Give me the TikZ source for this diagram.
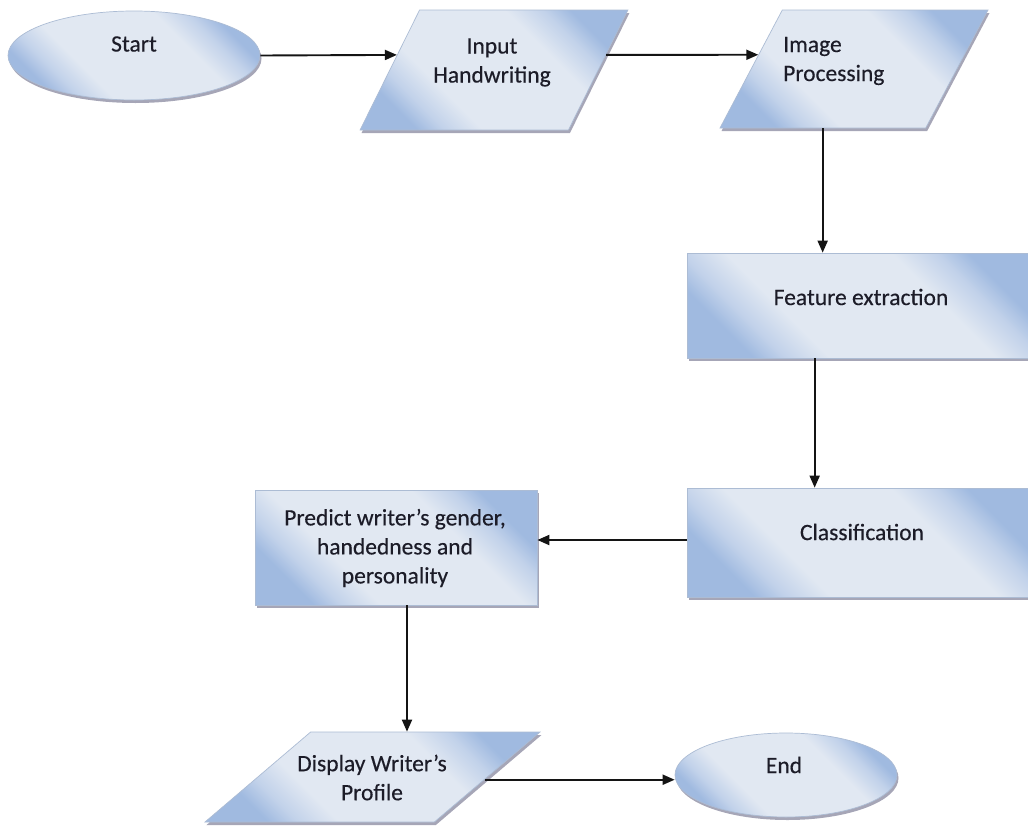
\documentclass[tikz,border=0pt]{standalone}
\usepackage{fontspec}
\setmainfont{Carlito}[FakeBold=0.35]
\usetikzlibrary{shapes.geometric,shadows,arrows.meta,calc}

\definecolor{edgeblue}{RGB}{172,188,212}
\definecolor{deepblue}{RGB}{160,186,224}
\definecolor{midblue}{RGB}{194,210,234}
\definecolor{paleblue}{RGB}{225,232,242}
\definecolor{inktext}{RGB}{28,28,40}
\definecolor{linkgray}{RGB}{20,20,20}

% diagonal sheen: darker blue at two opposite corners, pale band across the middle
\pgfdeclareverticalshading{flowshade}{100bp}{%
  color(0bp)=(deepblue); color(25bp)=(deepblue); color(30bp)=(midblue);
  color(37bp)=(paleblue); color(63bp)=(paleblue); color(70bp)=(midblue);
  color(75bp)=(deepblue); color(100bp)=(deepblue)}

\tikzset{
  flowfill/.style={shading=flowshade, shading angle=-45},
  shapebase/.style={draw=edgeblue, line width=0.7pt, flowfill, inner sep=0pt,
    drop shadow={shadow xshift=1.5pt, shadow yshift=-3pt, fill=black!80!blue, opacity=0.35}},
  oval/.style={shapebase, ellipse},
  procbox/.style={shapebase, rectangle},
  iobox/.style={shapebase, trapezium, trapezium stretches=true, inner sep=2pt},
  txt/.style={font=\fontsize{23.5}{29}\selectfont, text=inktext, align=center, inner sep=0pt},
  link/.style={draw=linkgray, line width=1.9pt, -{Triangle[length=12pt,width=10pt]}}
}

\begin{document}
\begin{tikzpicture}[x=1pt,y=-1pt]
\useasboundingbox (0,0) rectangle (1028,825);
\fill[white] (0,0) rectangle (1028,825);
\clip (0,0) rectangle (1028,825);

% shapes
\node[oval, minimum width=252pt, minimum height=89pt] (start) at (134,55.5) {};
\node[iobox, trapezium left angle=68.2, trapezium right angle=111.8,
      minimum width=268pt, minimum height=120pt] (input) at (494,70) {};
\node[iobox, trapezium left angle=66.5, trapezium right angle=113.5,
      minimum width=268pt, minimum height=118pt] (imgproc) at (854,69) {};
\node[procbox, minimum width=348pt, minimum height=105pt] (feat) at (861,305.5) {};
\node[procbox, minimum width=348pt, minimum height=109pt] (classif) at (861,542.5) {};
\node[procbox, minimum width=282pt, minimum height=115pt] (predict) at (396,547.5) {};
\node[iobox, trapezium left angle=49.5, trapezium right angle=130.5,
      minimum width=335pt, minimum height=90pt] (display) at (372.5,777) {};
\node[oval, minimum width=222pt, minimum height=84pt] (finish) at (786,775) {};

% texts
\node[txt] (startT) at (134,44) {Start};
\node[txt] (inputT) at (492,62.5) {Input\\Handwriting};
\node[txt, align=left, anchor=west] (imgT) at (783,61) {Image\\Processing};
\node[txt] (featT) at (861,297) {Feature extraction};
\node[txt] (classT) at (862,532) {Classification};
\node[txt] (predT) at (395,548) {Predict writer’s gender,\\handedness and\\personality};
\node[txt] (dispT) at (372,777.5) {Display Writer’s\\Profile};
\node[txt] (endT) at (784,765) {End};

% connectors
\coordinate (inL) at ($(input.top left corner)!0.375!(input.bottom left corner)$);
\coordinate (inR) at ($(input.top right corner)!0.375!(input.bottom right corner)$);
\coordinate (ipL) at ($(imgproc.top left corner)!0.38!(imgproc.bottom left corner)$);
\coordinate (fc) at ($(feat.south west)+(128,0)$);
\coordinate (pc) at ($(predict.south)+(11,0)$);
\coordinate (dr) at ($(display.top right corner)!0.53!(display.bottom right corner)$);

\draw[link] (start.east) -- (inL);
\draw[link] (inR) -- (ipL);
\draw[link] (imgproc.bottom side) -- (imgproc.bottom side |- feat.north);
\draw[link] (fc) -- (fc |- classif.north);
\draw[link] (classif.west |- 0,540) -- (predict.east |- 0,540);
\draw[link] (pc) -- (pc |- display.top side);
\draw[link] (dr) -- (dr -| finish.west);
\end{tikzpicture}
\end{document}
